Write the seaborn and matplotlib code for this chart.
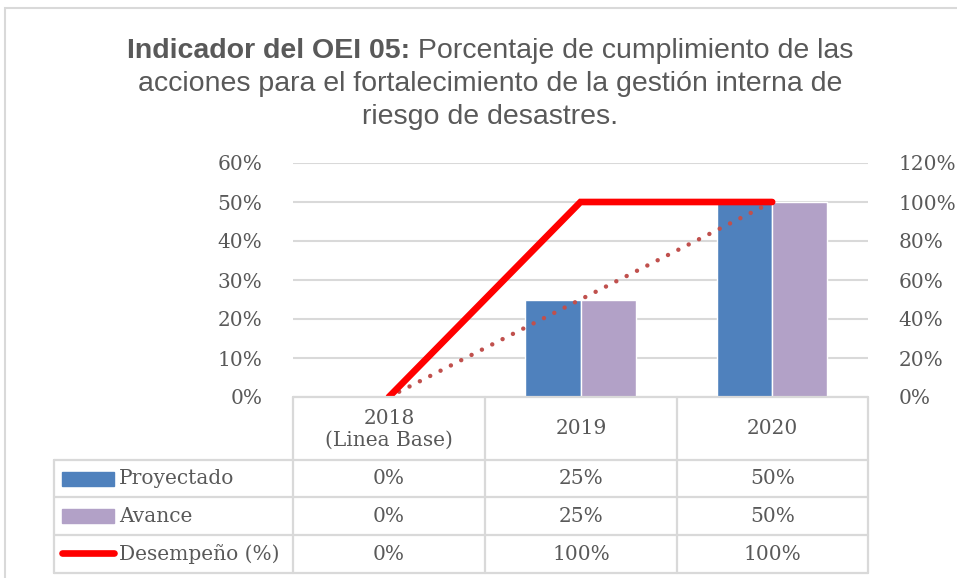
import numpy as np
import pandas as pd
import matplotlib
matplotlib.use("Agg")
import matplotlib.pyplot as plt
from matplotlib.ticker import PercentFormatter
from matplotlib.lines import Line2D
from matplotlib.patches import Rectangle
import seaborn as sns

# datos
anios = ["2018\n(Linea Base)", "2019", "2020"]
proyectado = [0.0, 0.25, 0.50]
avance = [0.0, 0.25, 0.50]
desempeno = [0.0, 1.00, 1.00]
series = ["Proyectado", "Avance", "Desempeño (%)"]
titulo_bold = "Indicador del OEI 05:"
titulo_resto = [" Porcentaje de cumplimiento de las",
                "acciones para el fortalecimiento de la gestión interna de",
                "riesgo de desastres."]

AZUL = "#4F81BD"
MORADO = "#B2A1C7"
ROJO = "#FF0000"
TEXTO = "#595959"
GRIS = "#D9D9D9"

sns.set_style("white")
plt.rcParams["font.family"] = ["DejaVu Serif"]

W, H = 957, 578
fig = plt.figure(figsize=(W / 100, H / 100), dpi=100)


def fx(x):
    return x / W


def fy(y):
    return 1 - y / H


# area del grafico (px)
L, R, T, B = 293, 868, 163, 397
ax = fig.add_axes([fx(L), fy(B), fx(R) - fx(L), fy(T) - fy(B)])

df = pd.DataFrame({
    "anio": anios * 2,
    "serie": [series[0]] * 3 + [series[1]] * 3,
    "valor": proyectado + avance,
})
sns.barplot(data=df, x="anio", y="valor", hue="serie", order=anios,
            palette=[AZUL, MORADO], saturation=1, width=0.574, legend=False,
            ax=ax, zorder=2)

# linea de tendencia (lineal) de lo proyectado
pos = np.arange(len(anios))
sns.regplot(x=pos, y=proyectado, ax=ax, scatter=False, ci=None,
            line_kws=dict(color="#C0504D", linestyle=(0, (0.01, 2.6)),
                          linewidth=3.2, dash_capstyle="round", zorder=3))

ax.set_xlim(-0.5, 2.5)
ax.set_ylim(0, 0.6)
ax.set_yticks(np.arange(0, 0.61, 0.1))
ax.yaxis.set_major_formatter(PercentFormatter(1, decimals=0))
ax.grid(axis="y", color=GRIS, linewidth=1.5, zorder=0)
ax.grid(axis="x", visible=False)
ax.set_xticks([])
ax.set_xlabel("")
ax.set_ylabel("")
ax.tick_params(axis="y", length=0, pad=22, labelsize=14.5, labelcolor=TEXTO)
for s in ax.spines.values():
    s.set_visible(False)

ax2 = ax.twinx()
sns.lineplot(x=pos, y=desempeno, ax=ax2, color=ROJO, linewidth=4.8,
             solid_capstyle="round", solid_joinstyle="miter")
ax2.set_xlim(-0.5, 2.5)
ax2.set_ylim(0, 1.2)
ax2.set_yticks(np.arange(0, 1.21, 0.2))
ax2.yaxis.set_major_formatter(PercentFormatter(1, decimals=0))
ax2.tick_params(axis="y", length=0, pad=22, labelsize=14.5, labelcolor=TEXTO)
ax2.set_ylabel("")
for s in ax2.spines.values():
    s.set_visible(False)

# tabla de datos
cols = [293, 485, 677, 868]
filas = [397, 460, 497, 535, 573]
lw = 1.6


def linea(x0, y0, x1, y1):
    fig.add_artist(Line2D([fx(x0), fx(x1)], [fy(y0), fy(y1)],
                          color=GRIS, linewidth=lw))


linea(cols[0], filas[0], cols[-1], filas[0])
for y in filas[1:]:
    linea(54, y, cols[-1], y)
for x in cols:
    linea(x, filas[0], x, filas[-1])
linea(54, filas[1], 54, filas[-1])

centros = [(cols[i] + cols[i + 1]) / 2 for i in range(3)]
for c, a in zip(centros, anios):
    fig.text(fx(c), fy(429), a, ha="center", va="center", fontsize=14.5,
             color=TEXTO, linespacing=1.2)

valores = [proyectado, avance, desempeno]
for r, vals in enumerate(valores):
    yc = (filas[r + 1] + filas[r + 2]) / 2
    for c, v in zip(centros, vals):
        fig.text(fx(c), fy(yc), f"{v:.0%}", ha="center", va="center",
                 fontsize=14.5, color=TEXTO)
    fig.text(fx(119), fy(yc), series[r], ha="left", va="center",
             fontsize=14.5, color=TEXTO)

# simbolos de leyenda
fig.add_artist(Rectangle((fx(62), fy(486)), fx(114) - fx(62), fy(472) - fy(486),
                         color=AZUL))
fig.add_artist(Rectangle((fx(62), fy(523)), fx(114) - fx(62), fy(509) - fy(523),
                         color=MORADO))
fig.add_artist(Line2D([fx(62), fx(114)], [fy(553), fy(553)], color=ROJO,
                      linewidth=4.8, solid_capstyle="round"))

# marco exterior
fig.add_artist(Rectangle((fx(5), fy(H + 5)), fx(W + 5) - fx(5), fy(8) - fy(H + 5),
                         fill=False, edgecolor=GRIS, linewidth=1.5))

# titulo (parte en negrita + parte normal)
tfont = dict(family=["Liberation Sans", "DejaVu Sans"], fontsize=20.5, color=TEXTO)
renderer = fig.canvas.get_renderer()
t1 = fig.text(0, 0, titulo_bold, fontweight="bold", **tfont)
t2 = fig.text(0, 0, titulo_resto[0], **tfont)
w1 = t1.get_window_extent(renderer).width
w2 = t2.get_window_extent(renderer).width
xc = 490
x0 = xc - (w1 + w2) / 2
t1.set_position((fx(x0), fy(58)))
t2.set_position((fx(x0 + w1), fy(58)))
fig.text(fx(xc), fy(91), titulo_resto[1], ha="center", **tfont)
fig.text(fx(xc), fy(124), titulo_resto[2], ha="center", **tfont)

fig.savefig("out.png", dpi=100)
